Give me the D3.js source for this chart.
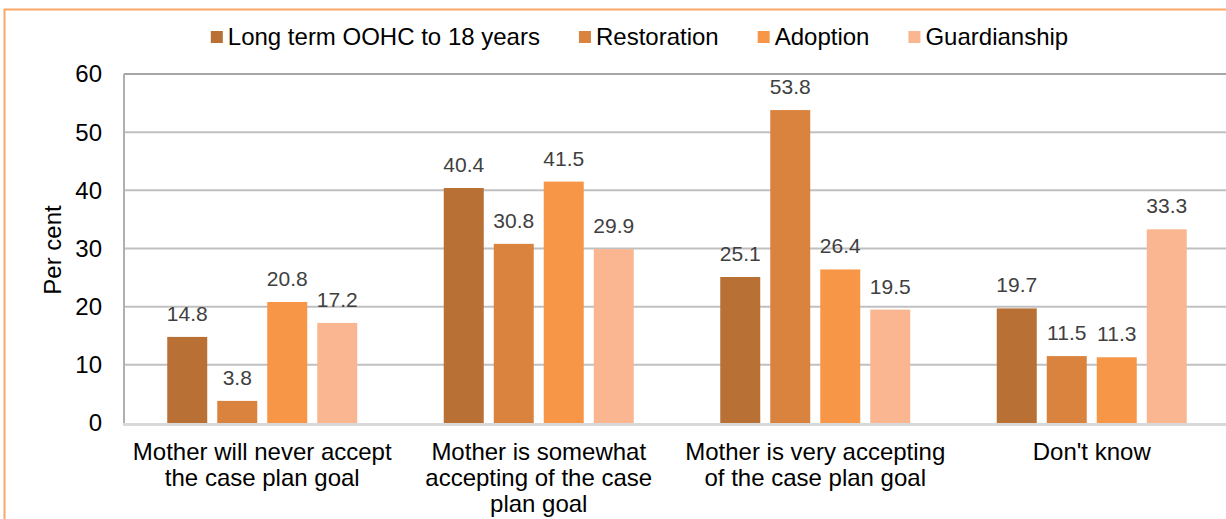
<!DOCTYPE html>
<html>
<head>
<meta charset="utf-8">
<script src="https://cdn.jsdelivr.net/npm/d3@7"></script>
<style>
  body { margin: 0; background: #fff; }
  svg { display: block; font-family: "Liberation Sans", Arial, sans-serif; }
</style>
</head>
<body>
<svg id="chart" width="1226" height="519"></svg>
<script>
// chart data
const categories = [
  ["Mother will never accept", "the case plan goal"],
  ["Mother is somewhat", "accepting of the case", "plan goal"],
  ["Mother is very accepting", "of the case plan goal"],
  ["Don't know"]
];
const seriesNames = ["Long term OOHC to 18 years", "Restoration", "Adoption", "Guardianship"];
const longTerm = [14.8, 40.4, 25.1, 19.7];
const restoration = [3.8, 30.8, 53.8, 11.5];
const adoption = [20.8, 41.5, 26.4, 11.3];
const guardianship = [17.2, 29.9, 19.5, 33.3];
const yTicks = [0, 10, 20, 30, 40, 50, 60];
const colors = ["#B97034", "#D9833F", "#F79646", "#F9B690"];

const seriesValues = [longTerm, restoration, adoption, guardianship];

const svg = d3.select('#chart');

// outer frame (right and bottom edges fall outside the picture)
svg.append('rect')
  .attr('x', 4.5).attr('y', 9.5)
  .attr('width', 1240).attr('height', 530)
  .attr('fill', 'none')
  .attr('stroke', '#F9A866')
  .attr('stroke-width', 2);

const plotLeft = 124, plotTop = 74, plotBottom = 423, plotRight = 1230;

const y = d3.scaleLinear().domain([0, 60]).range([plotBottom, plotTop]);
const x = d3.scaleBand().domain(d3.range(categories.length)).range([plotLeft, plotRight]);
const xs = d3.scaleBand().domain(d3.range(seriesNames.length))
  .range([-95, 95]).paddingInner(0.2);

// gridlines
svg.append('g').selectAll('line')
  .data(yTicks.filter(d => d > 0))
  .join('line')
  .attr('x1', plotLeft).attr('x2', plotRight)
  .attr('y1', d => y(d)).attr('y2', d => y(d))
  .attr('stroke', d => d === 60 ? '#A6A6A6' : '#C0C0C0')
  .attr('stroke-width', 2);

// left axis line
svg.append('line')
  .attr('x1', plotLeft).attr('x2', plotLeft)
  .attr('y1', plotTop).attr('y2', plotBottom)
  .attr('stroke', '#B0B0B0').attr('stroke-width', 2);

// y tick labels
svg.append('g').selectAll('text')
  .data(yTicks)
  .join('text')
  .attr('x', 102)
  .attr('y', d => y(d))
  .attr('dy', '0.35em')
  .attr('text-anchor', 'end')
  .attr('font-size', 24)
  .attr('fill', '#000')
  .text(d => d);

svg.append('text')
  .attr('transform', 'translate(61,250) rotate(-90)')
  .attr('text-anchor', 'middle')
  .attr('font-size', 24)
  .attr('fill', '#000')
  .text('Per cent');

// bars
const groups = svg.append('g').selectAll('g')
  .data(categories.map((c, i) => i))
  .join('g')
  .attr('transform', i => `translate(${x(i) + x.bandwidth() / 2},0)`);

groups.selectAll('rect')
  .data(i => seriesValues.map((s, k) => ({ k, v: s[i] })))
  .join('rect')
  .attr('x', d => xs(d.k))
  .attr('width', xs.bandwidth())
  .attr('y', d => y(d.v))
  .attr('height', d => y(0) - y(d.v))
  .attr('fill', d => colors[d.k]);

groups.selectAll('text.val')
  .data(i => seriesValues.map((s, k) => ({ k, v: s[i] })))
  .join('text')
  .attr('class', 'val')
  .attr('x', d => xs(d.k) + xs.bandwidth() / 2)
  .attr('y', d => y(d.v) - 16)
  .attr('text-anchor', 'middle')
  .attr('font-size', 21)
  .attr('fill', '#404040')
  .text(d => d.v.toFixed(1));

// bottom axis line
svg.append('line')
  .attr('x1', plotLeft - 1).attr('x2', plotRight)
  .attr('y1', plotBottom + 1.5).attr('y2', plotBottom + 1.5)
  .attr('stroke', '#D9D9D9').attr('stroke-width', 3);

// category labels
const catLabels = svg.append('g').selectAll('text')
  .data(categories.map((c, i) => i))
  .join('text')
  .attr('x', i => x(i) + x.bandwidth() / 2)
  .attr('y', 460)
  .attr('text-anchor', 'middle')
  .attr('font-size', 24)
  .attr('fill', '#000');

catLabels.selectAll('tspan')
  .data(i => categories[i])
  .join('tspan')
  .attr('x', function () { return this.parentNode.getAttribute('x'); })
  .attr('dy', (d, j) => j === 0 ? 0 : 26)
  .text(d => d);

// legend
const legend = svg.append('g');
const items = legend.selectAll('g')
  .data(seriesNames)
  .join('g');
items.append('rect')
  .attr('width', 12).attr('height', 12)
  .attr('y', 31)
  .attr('fill', (d, i) => colors[i]);
items.append('text')
  .attr('x', 17).attr('y', 45)
  .attr('font-size', 24)
  .attr('fill', '#000')
  .text(d => d);

const widths = [];
items.each(function () {
  widths.push(this.querySelector('text').getComputedTextLength() + 17);
});
const gap = 39;
const total = d3.sum(widths) + gap * (widths.length - 1);
let cx = 639.5 - total / 2;
items.attr('transform', (d, i) => {
  const t = `translate(${cx},0)`;
  cx += widths[i] + gap;
  return t;
});
</script>
</body>
</html>
